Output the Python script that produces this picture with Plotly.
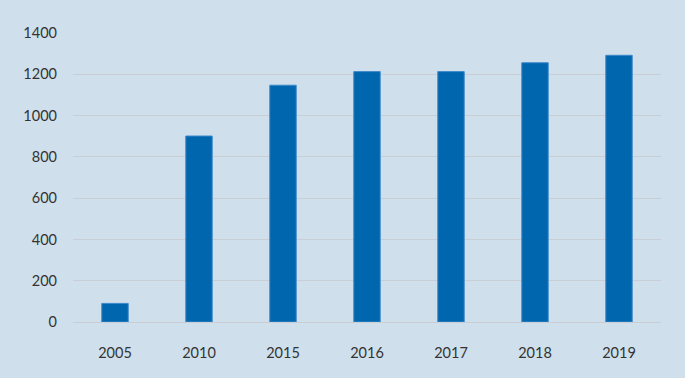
import plotly.graph_objects as go

years = ["2005", "2010", "2015", "2016", "2017", "2018", "2019"]
values = [90, 901, 1147, 1213, 1213, 1256, 1292]
y_ticks = [0, 200, 400, 600, 800, 1000, 1200, 1400]

fig = go.Figure(go.Bar(
    x=years, y=values,
    marker=dict(color="#0066AE", line=dict(color="#3F8ACB", width=1)),
    hoverinfo="skip",
))

fig.update_layout(
    width=685, height=378,
    margin=dict(l=73, r=24, t=33, b=56),
    paper_bgcolor="#CFE0EC", plot_bgcolor="#CFE0EC",
    bargap=0.685,
    showlegend=False,
    font=dict(family="Lato, Open Sans, sans-serif", size=14.5, color="#333333"),
)
fig.update_xaxes(
    type="category", showgrid=False, showline=False, zeroline=False,
    ticks="", ticklabelstandoff=20,
)
fig.update_yaxes(
    range=[0, 1400], tickvals=y_ticks, ticktext=[str(v) for v in y_ticks],
    showgrid=True, gridcolor="#C9CED4", gridwidth=1,
    zeroline=True, zerolinecolor="#C9CED4", zerolinewidth=1,
    showline=False, ticks="", ticklabelstandoff=15,
)

fig.write_html(
    "out.html",
    config={"displayModeBar": False, "staticPlot": True},
    post_script="document.body.style.margin='0';document.body.style.overflow='hidden';",
)
